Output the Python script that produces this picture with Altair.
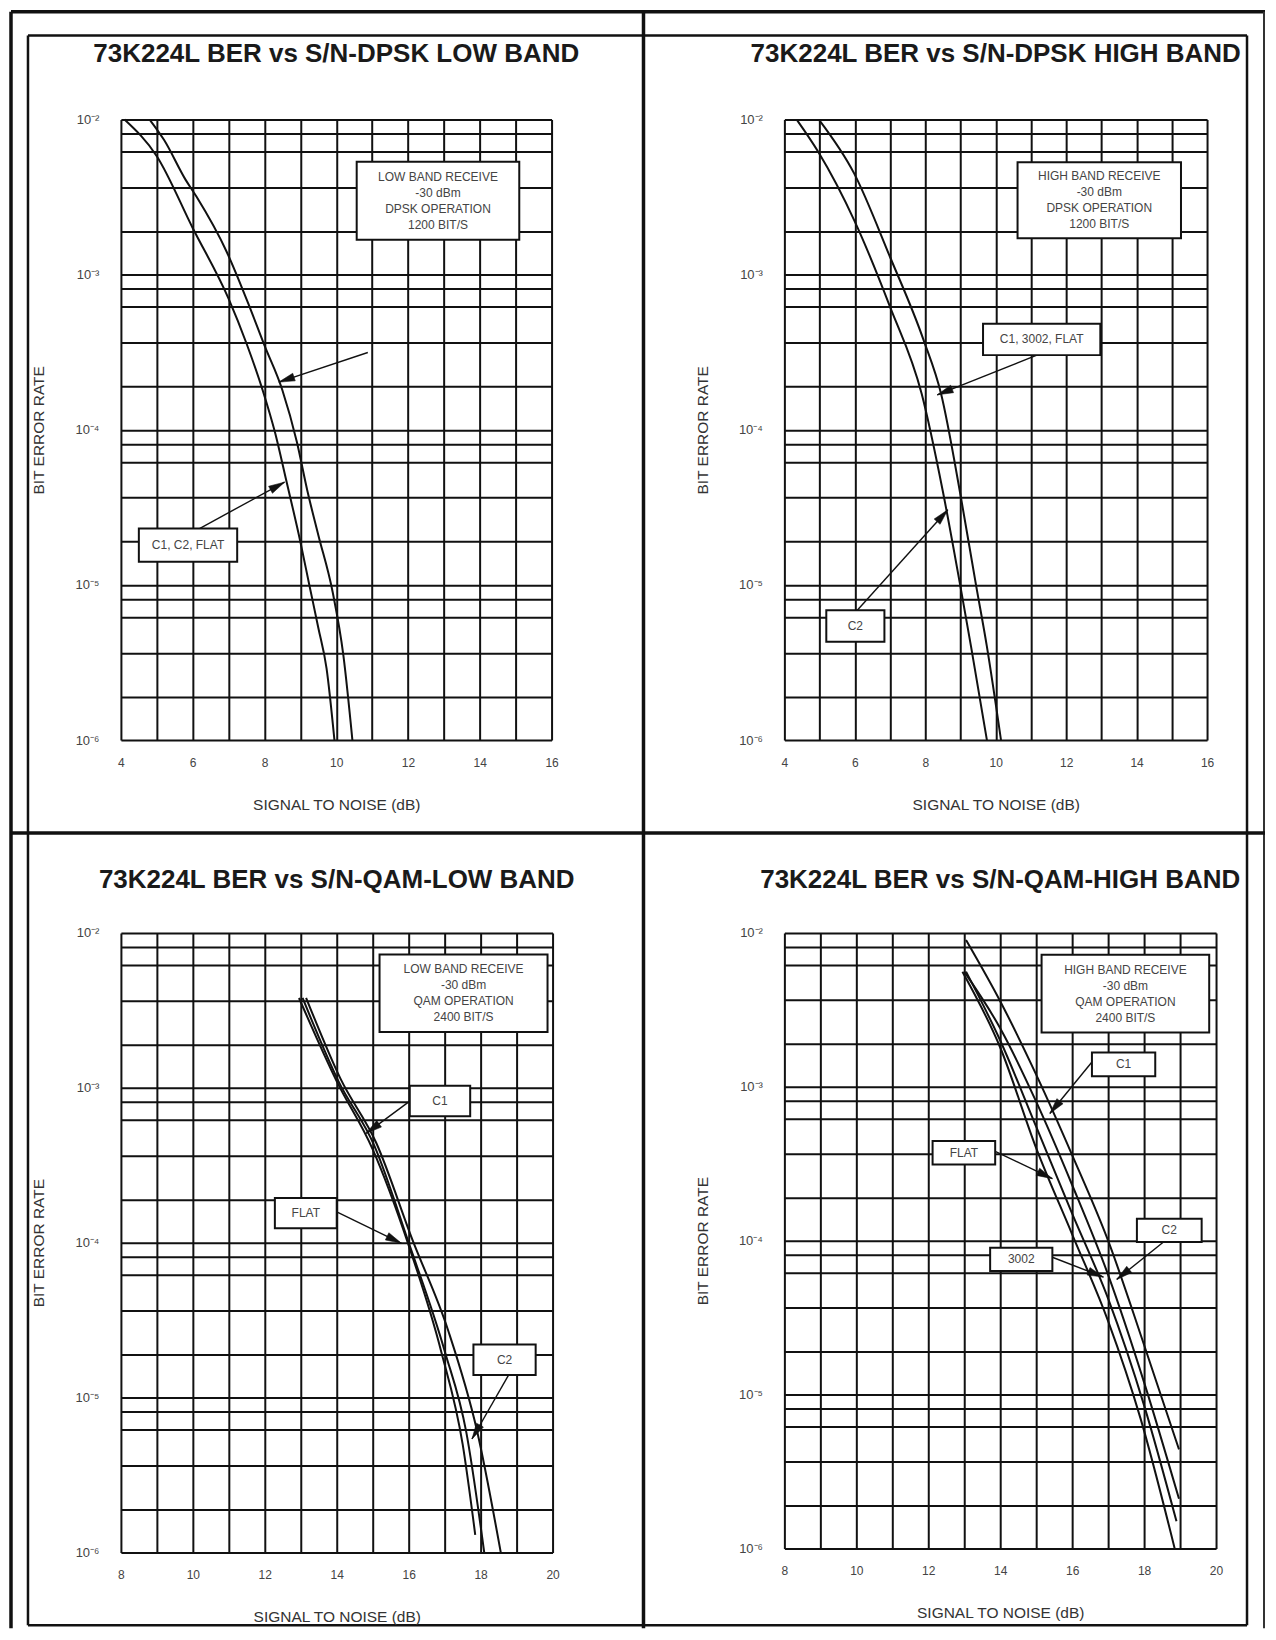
import math
import altair as alt
import pandas as pd

FONT = "Liberation Sans"
INK = "#111111"
GREY = "#444444"

# ------------------------------------------------------------------ data
# Top-left panel: DPSK low band
dpsk_low_left_x = [4.1, 5.0, 6.0, 7.0, 7.5, 7.95, 8.3, 8.6, 9.0, 9.25, 9.5, 9.73, 9.95]
dpsk_low_left_y = [1e-2, 5.8e-3, 2.0e-3, 7.0e-4, 3.6e-4, 1.8e-4, 9.5e-5, 4.8e-5, 1.9e-5, 1.0e-5, 5.3e-6, 2.9e-6, 1.0e-6]
dpsk_low_right_x = [4.8, 5.2, 5.8, 6.1, 6.95, 7.55, 8.0, 8.5, 8.9, 9.2, 9.5, 9.9, 10.2, 10.45]
dpsk_low_right_y = [1e-2, 7.4e-3, 4.1e-3, 3.2e-3, 1.4e-3, 6.5e-4, 3.5e-4, 1.8e-4, 8.4e-5, 4.0e-5, 2.1e-5, 9.0e-6, 3.5e-6, 1.0e-6]

# Top-right panel: DPSK high band
dpsk_high_left_x = [4.35, 4.96, 6.0, 7.0, 7.9, 8.5, 8.99, 9.3, 9.75]
dpsk_high_left_y = [1e-2, 6.2e-3, 2.2e-3, 6.2e-4, 1.7e-4, 4.0e-5, 1.0e-5, 4.0e-6, 1.0e-6]
dpsk_high_right_x = [4.98, 5.98, 7.0, 7.95, 8.45, 9.0, 9.44, 9.75, 10.15]
dpsk_high_right_y = [1e-2, 4.5e-3, 1.3e-3, 3.8e-4, 1.7e-4, 3.8e-5, 1.0e-5, 4.0e-6, 1.0e-6]

# Bottom-left panel: QAM low band
qam_low_a_x = [12.95, 14.0, 15.0, 16.0, 16.9, 17.5, 17.85]
qam_low_a_y = [3.8e-3, 1.1e-3, 4.0e-4, 9.6e-5, 2.0e-5, 5.0e-6, 1.3e-6]
qam_low_b_x = [13.05, 14.05, 15.05, 16.0, 17.0, 17.6, 18.1]
qam_low_b_y = [3.8e-3, 1.1e-3, 4.2e-4, 1.0e-4, 2.0e-5, 6.0e-6, 1.0e-6]
qam_low_c_x = [13.15, 14.1, 15.1, 16.1, 17.1, 17.9, 18.56]
qam_low_c_y = [3.8e-3, 1.15e-3, 4.4e-4, 1.05e-4, 2.7e-5, 6.1e-6, 1.0e-6]

# Bottom-right panel: QAM high band
qam_high_a_x = [13.05, 14.0, 15.0, 16.0, 17.0, 18.0, 18.97]
qam_high_a_y = [9.0e-3, 3.6e-3, 1.2e-3, 3.6e-4, 1.0e-4, 2.1e-5, 4.4e-6]
qam_high_b_x = [12.95, 14.0, 15.0, 16.0, 17.0, 17.9, 18.85]
qam_high_b_y = [5.6e-3, 1.8e-3, 4.0e-4, 1.1e-4, 3.0e-5, 7.0e-6, 1.0e-6]
qam_high_c_x = [13.0, 14.0, 15.0, 16.0, 17.0, 18.0, 18.97]
qam_high_c_y = [5.6e-3, 2.4e-3, 8.0e-4, 2.3e-4, 6.0e-5, 1.2e-5, 2.1e-6]
qam_high_d_x = [13.05, 14.0, 15.0, 16.0, 17.0, 18.0, 18.9]
qam_high_d_y = [5.6e-3, 2.0e-3, 5.5e-4, 1.5e-4, 4.2e-5, 8.5e-6, 1.5e-6]

# Annotation boxes: (x_left, x_right, y_top, y_bottom, text)
boxes_1 = [
    (10.57, 15.1, 5.35e-3, 1.68e-3, "LOW BAND RECEIVE\n-30 dBm\nDPSK OPERATION\n1200 BIT/S"),
    (4.5, 7.24, 2.31e-5, 1.41e-5, "C1, C2, FLAT"),
]
arrows_1 = [(10.88, 3.15e-4, 8.4, 2.03e-4), (6.19, 2.31e-5, 8.56, 4.6e-5)]

boxes_2 = [
    (10.62, 15.26, 5.3e-3, 1.72e-3, "HIGH BAND RECEIVE\n-30 dBm\nDPSK OPERATION\n1200 BIT/S"),
    (9.64, 12.97, 4.83e-4, 3.03e-4, "C1, 3002, FLAT"),
    (5.19, 6.84, 6.86e-6, 4.3e-6, "C2"),
]
arrows_2 = [(11.17, 3.03e-4, 8.34, 1.68e-4), (6.07, 6.86e-6, 8.64, 3.05e-5)]

boxes_3 = [
    (15.19, 19.86, 7.26e-3, 2.29e-3, "LOW BAND RECEIVE\n-30 dBm\nQAM OPERATION\n2400 BIT/S"),
    (16.03, 17.71, 1.03e-3, 6.56e-4, "C1"),
    (12.28, 14.0, 1.94e-4, 1.24e-4, "FLAT"),
    (17.8, 19.53, 2.2e-5, 1.4e-5, "C2"),
]
arrows_3 = [(16.03, 8.2e-4, 14.82, 5.08e-4), (14.0, 1.58e-4, 15.8, 9.9e-5), (18.78, 1.4e-5, 17.76, 5.4e-6)]

boxes_4 = [
    (15.15, 19.81, 7.2e-3, 2.25e-3, "HIGH BAND RECEIVE\n-30 dBm\nQAM OPERATION\n2400 BIT/S"),
    (16.55, 18.31, 1.67e-3, 1.17e-3, "C1"),
    (12.12, 13.86, 4.45e-4, 3.13e-4, "FLAT"),
    (13.72, 15.45, 9.0e-5, 6.35e-5, "3002"),
    (17.8, 19.6, 1.39e-4, 9.8e-5, "C2"),
]
arrows_4 = [(16.55, 1.45e-3, 15.38, 6.7e-4), (13.86, 3.8e-4, 15.45, 2.53e-4),
            (15.45, 7.8e-5, 16.87, 5.8e-5), (18.54, 9.8e-5, 17.24, 5.6e-5)]

# Log-paper grid lines (as printed) and decade labels
Y_GRID = [1e-6, 1.9e-6, 3.65e-6, 6.2e-6, 8.1e-6,
          1e-5, 1.9e-5, 3.65e-5, 6.2e-5, 8.1e-5,
          1e-4, 1.9e-4, 3.65e-4, 6.2e-4, 8.1e-4,
          1e-3, 1.9e-3, 3.65e-3, 6.2e-3, 8.1e-3,
          1e-2]
Y_LABEL_EXPR = ("datum.value == 0.01 ? '10⁻²' : datum.value == 0.001 ? '10⁻³' : "
                "datum.value == 0.0001 ? '10⁻⁴' : datum.value == 0.00001 ? '10⁻⁵' : "
                "datum.value == 0.000001 ? '10⁻⁶' : ''")

# Page frame (pixel offsets relative to the top-left plot origin): x, x2, y, y2, width, colour
FRAME = [
    (-110, 1145, -108, -108, 3.5, INK),
    (-110, -110, -108, 1510, 3.5, INK),
    (1144, 1144, -108, 1510, 2, "#333333"),
    (523, 523, -108, 1510, 3.5, INK),
    (-110, 1145, 714, 714, 3.5, INK),
    (-93, 1127, -84, -84, 2.5, INK),
    (-93, -93, -84, 1507, 2.5, INK),
    (1127, 1127, -84, 1507, 2.5, INK),
    (-93, 1127, 1507, 1507, 2.5, INK),
]

HEAD = "M0,0L1,4L-1,4Z"
LINE_H = 16


def head_angle(x0, y0, x1, y1, xdom, W, H):
    dx = (x1 - x0) / (xdom[1] - xdom[0]) * W
    dy = (math.log10(y0) - math.log10(y1)) / 4.0 * H
    return math.degrees(math.atan2(dx, -dy)) % 360


def panel(title, xdom, W, H, curves, boxes, arrows, title_dy, frame=False):
    xscale = alt.Scale(domain=list(xdom), nice=False, zero=False)
    yscale = alt.Scale(type="log", domain=[1e-6, 1e-2], nice=False)
    xaxis = alt.Axis(values=list(range(xdom[0], xdom[1] + 1)), grid=True, gridColor=INK,
                     gridWidth=2, gridOpacity=1, ticks=False, domain=False,
                     labelExpr="datum.value % 2 == 0 ? datum.label : ''",
                     labelOverlap=False, labelFlush=False, labelBound=False,
                     labelPadding=17, labelFont=FONT, labelFontSize=12, labelColor=GREY,
                     titleFont=FONT, titleFontSize=15.5, titleFontWeight="normal",
                     titleColor="#333333", titleY=64, titleBaseline="middle")
    yaxis = alt.Axis(values=Y_GRID, grid=True, gridColor=INK, gridWidth=2, gridOpacity=1,
                     ticks=False, domain=False, labelExpr=Y_LABEL_EXPR,
                     labelOverlap=False, labelFlush=False, labelBound=False,
                     labelPadding=22, labelFont=FONT, labelFontSize=13, labelColor=GREY,
                     titleFont=FONT, titleFontSize=15.5, titleFontWeight="normal",
                     titleColor="#333333", titleX=-82, titleY=H / 2, titleAngle=270,
                     titleBaseline="middle", titleAlign="center")

    def X(f):
        return alt.X(f, type="quantitative", scale=xscale, axis=xaxis, title="SIGNAL TO NOISE (dB)")

    def Y(f):
        return alt.Y(f, type="quantitative", scale=yscale, axis=yaxis, title="BIT ERROR RATE")

    rows = []
    for name, xs, ys in curves:
        for a, b in zip(xs, ys):
            rows.append({"s": name, "x": a, "y": b})
    cdf = pd.DataFrame(rows)

    bdf = pd.DataFrame([{"bx": b[0], "bx2": b[1], "by": b[2], "by2": b[3],
                         "cx": (b[0] + b[1]) / 2, "cy": math.sqrt(b[2] * b[3]), "label": b[4]}
                        for b in boxes])
    multi = bdf[bdf["label"].str.contains("\n")]
    single = bdf[~bdf["label"].str.contains("\n")]
    n_lines = int(multi["label"].iloc[0].count("\n")) + 1 if len(multi) else 1
    adf = pd.DataFrame([{"x0": a[0], "y0": a[1], "x1": a[2], "y1": a[3],
                         "ang": head_angle(a[0], a[1], a[2], a[3], xdom, W, H)} for a in arrows])

    layers = []
    layers.append(alt.Chart(cdf).mark_line(color=INK, strokeWidth=2, interpolate="monotone")
                  .encode(x=X("x"), y=Y("y"), detail="s:N"))
    layers.append(alt.Chart(adf).mark_rule(color=INK, strokeWidth=1.4)
                  .encode(x=X("x0"), y=Y("y0"), x2="x1", y2="y1"))
    layers.append(alt.Chart(bdf).mark_rect(fill="white", stroke=INK, strokeWidth=2)
                  .encode(x=X("bx"), x2="bx2", y=Y("by"), y2="by2"))
    layers.append(alt.Chart(multi).mark_text(font=FONT, fontSize=12, color=GREY, lineBreak="\n",
                                             lineHeight=LINE_H, align="center", baseline="middle",
                                             dy=-(n_lines - 1) * LINE_H / 2)
                  .encode(x=X("cx"), y=Y("cy"), text="label:N"))
    layers.append(alt.Chart(single).mark_text(font=FONT, fontSize=12, color=GREY,
                                              align="center", baseline="middle")
                  .encode(x=X("cx"), y=Y("cy"), text="label:N"))
    layers.append(alt.Chart(adf).mark_point(shape=HEAD, filled=True, size=64, fill=INK,
                                            fillOpacity=1, opacity=1, stroke=INK, strokeWidth=0.5)
                  .encode(x=X("x1"), y=Y("y1"), angle=alt.Angle("ang:Q", scale=None)))
    layers.append(alt.Chart(pd.DataFrame({"t": [title]}))
                  .mark_text(font=FONT, fontSize=26, fontWeight="bold", color="#1a1a1a",
                             align="center", baseline="alphabetic")
                  .encode(x=alt.value(W / 2), y=alt.value(-title_dy), text="t:N"))
    if frame:
        one = pd.DataFrame({"k": [0]})
        for (fx, fx2, fy, fy2, w, col) in FRAME:
            layers.append(alt.Chart(one).mark_rule(color=col, strokeWidth=w, strokeCap="butt")
                          .encode(x=alt.value(fx), x2=alt.value(fx2),
                                  y=alt.value(fy), y2=alt.value(fy2)))
    return alt.layer(*layers).properties(width=W, height=H)


p1 = panel("73K224L BER vs S/N-DPSK LOW BAND", (4, 16), 431, 621,
           [("A", dpsk_low_left_x, dpsk_low_left_y), ("B", dpsk_low_right_x, dpsk_low_right_y)],
           boxes_1, arrows_1, 58, frame=True)
p2 = panel("73K224L BER vs S/N-DPSK HIGH BAND", (4, 16), 423, 621,
           [("A", dpsk_high_left_x, dpsk_high_left_y), ("B", dpsk_high_right_x, dpsk_high_right_y)],
           boxes_2, arrows_2, 58)
p3 = panel("73K224L BER vs S/N-QAM-LOW BAND", (8, 20), 432, 620,
           [("A", qam_low_a_x, qam_low_a_y), ("B", qam_low_b_x, qam_low_b_y),
            ("C", qam_low_c_x, qam_low_c_y)],
           boxes_3, arrows_3, 45)
p4 = panel("73K224L BER vs S/N-QAM-HIGH BAND", (8, 20), 432, 616,
           [("A", qam_high_a_x, qam_high_a_y), ("B", qam_high_b_x, qam_high_b_y),
            ("C", qam_high_c_x, qam_high_c_y), ("D", qam_high_d_x, qam_high_d_y)],
           boxes_4, arrows_4, 45)

chart = (alt.concat(p1, p2, p3, p4, columns=2, spacing={"row": 193, "column": 232}, bounds="flush")
         .properties(padding=0)
         .configure_view(stroke=INK, strokeWidth=2.2)
         .configure(font=FONT, background="white"))

chart.save("out.html", embed_options={"renderer": "svg", "actions": False})
